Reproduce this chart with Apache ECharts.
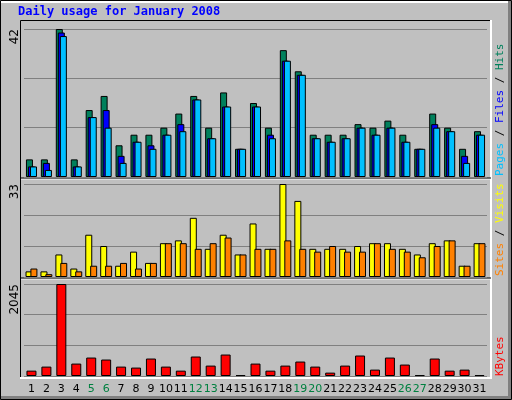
<!DOCTYPE html>
<html><head><meta charset="utf-8">
<script src="https://cdn.jsdelivr.net/npm/echarts@6/dist/echarts.min.js"></script>
<style>html,body{margin:0;padding:0;background:#c0c0c0}#c{width:512px;height:400px}</style>
</head><body><div id="c"></div>
<script>
var days = [];for (var d=1; d<=31; d++) days.push(String(d));
var weekends = ['5','6','12','13','19','20','26','27'];
var hits  = [5,5,42,5,19,23,9,12,12,14,18,23,14,24,8,21,14,36,30,12,12,12,15,14,16,12,8,18,14,8,13];
var files = [3,4,41,3,17,19,6,10,9,12,15,22,11,20,8,20,12,33,29,11,10,11,14,12,14,10,8,15,13,6,12];
var pages = [3,2,40,3,17,14,4,10,8,12,13,22,11,20,8,20,11,33,29,11,10,11,14,12,14,10,8,14,13,4,12];
var visits= [2,2,8,3,15,11,4,9,5,12,13,21,10,15,8,19,10,33,27,10,10,10,11,12,12,10,8,12,13,4,12];
var sites = [3,1,5,2,4,4,5,3,5,12,12,10,12,14,8,10,10,13,10,9,11,9,9,12,10,9,7,11,13,4,12];
var kbytes= [119,209,2045,276,410,366,209,187,388,209,119,433,231,477,20,276,119,231,321,209,75,231,455,142,410,254,20,388,119,142,20];
var maxTop = 42, maxMid = 33, maxBot = 2045;

var ch = echarts.init(document.getElementById('c'));
var L = 24, W = 463;
function xa(i, show){return {type:'category',data:days,gridIndex:i,axisLine:{show:false},axisTick:{show:false},
  axisLabel:{show:show,interval:0,margin:8,fontSize:11,fontFamily:'DejaVu Sans',color:'#000',
    formatter:function(v){return weekends.indexOf(v)>=0?'{w|'+v+'}':v;},rich:{w:{color:'#008040',fontSize:11,fontFamily:'DejaVu Sans'}}}};}
function ya(i,m){return {type:'value',gridIndex:i,min:0,max:m,interval:m/3,axisLine:{show:false},axisTick:{show:false},axisLabel:{show:false},
  splitLine:{lineStyle:{color:'#808080',width:1}}};}
var bs = {borderColor:'#000',borderWidth:1};
function s(name,data,color,xi,w,gap){return {type:'bar',name:name,data:data,xAxisIndex:xi,yAxisIndex:xi,barWidth:w,barGap:gap,
  itemStyle:Object.assign({color:color},bs),animation:false,silent:true};}
ch.setOption({
  animation:false,
  backgroundColor:'#c0c0c0',
  grid:[{left:L,width:W,top:29,height:148},{left:L,width:W,top:184,height:93},{left:L,width:W,top:284,height:92}],
  xAxis:[xa(0,false),xa(1,false),xa(2,true)],
  yAxis:[ya(0,maxTop),ya(1,maxMid),ya(2,maxBot)],
  series:[
    s('Hits',hits,'#00805c',0,7,'-71%'),s('Files',files,'#0000ff',0,7,'-71%'),s('Pages',pages,'#00c0ff',0,7,'-71%'),
    s('Visits',visits,'#ffff00',1,7,'-30%'),s('Sites',sites,'#ff8000',1,7,'-30%'),
    s('KBytes',kbytes,'#ff0000',2,10,'0%')
  ],
  graphic:[
    {type:'rect',shape:{x:0.5,y:0.5,width:511,height:399},style:{fill:'none',stroke:'#000',lineWidth:1},z:-1},
    {type:'rect',shape:{x:1,y:1,width:510,height:2},style:{fill:'#fff'}},
    {type:'rect',shape:{x:1,y:396,width:510,height:3},style:{fill:'#808080'}},
    {type:'rect',shape:{x:508,y:1,width:3,height:398},style:{fill:'#808080'}},
    {type:'polyline',shape:{points:[[20.5,379],[20.5,20.5],[490.5,20.5]]},style:{stroke:'#000',lineWidth:1,fill:'none'}},
    {type:'polyline',shape:{points:[[491,20],[491,378],[20,378]]},style:{stroke:'#fff',lineWidth:2,fill:'none'}},
    {type:'line',shape:{x1:21,y1:179,x2:491,y2:179},style:{stroke:'#fff',lineWidth:1}},
    {type:'line',shape:{x1:21,y1:178,x2:491,y2:178},style:{stroke:'#000',lineWidth:1}},
    {type:'line',shape:{x1:21,y1:279,x2:491,y2:279},style:{stroke:'#fff',lineWidth:1}},
    {type:'line',shape:{x1:21,y1:278,x2:491,y2:278},style:{stroke:'#000',lineWidth:1}},
    {type:'text',left:18,top:6,style:{text:'Daily usage for January 2008',fill:'#0000ff',font:'bold 12px "DejaVu Sans Mono"'}},
    {type:'text',x:9,y:29,rotation:Math.PI/2,style:{text:String(maxTop),fill:'#000',font:'12px "DejaVu Sans"',align:'right',verticalAlign:'top'}},
    {type:'text',x:9,y:184,rotation:Math.PI/2,style:{text:String(maxMid),fill:'#000',font:'12px "DejaVu Sans"',align:'right',verticalAlign:'top'}},
    {type:'text',x:9,y:284,rotation:Math.PI/2,style:{text:String(maxBot),fill:'#000',font:'12px "DejaVu Sans"',align:'right',verticalAlign:'top'}},
    {type:'text',x:495,y:176,rotation:Math.PI/2,style:{text:'{p|Pages}{s| / }{f|Files}{s| / }{h|Hits}',align:'left',verticalAlign:'top',font:'11px "DejaVu Sans Mono"',
      rich:{p:{fill:'#00c0ff',font:'11px "DejaVu Sans Mono"'},f:{fill:'#0000ff',font:'11px "DejaVu Sans Mono"'},h:{fill:'#00805c',font:'11px "DejaVu Sans Mono"'},s:{fill:'#000',font:'11px "DejaVu Sans Mono"'}}}},
    {type:'text',x:495,y:276,rotation:Math.PI/2,style:{text:'{a|Sites}{s| / }{b|Visits}',align:'left',verticalAlign:'top',font:'11px "DejaVu Sans Mono"',
      rich:{a:{fill:'#ff8000',font:'11px "DejaVu Sans Mono"'},b:{fill:'#ffff00',font:'11px "DejaVu Sans Mono"'},s:{fill:'#000',font:'11px "DejaVu Sans Mono"'}}}},
    {type:'text',x:495,y:376,rotation:Math.PI/2,style:{text:'KBytes',fill:'#ff0000',align:'left',verticalAlign:'top',font:'11px "DejaVu Sans Mono"'}}
  ]
});
</script></body></html>
